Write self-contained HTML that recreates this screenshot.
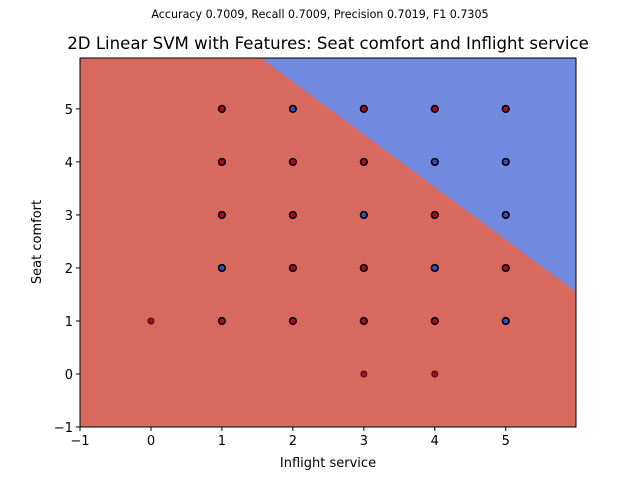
<!DOCTYPE html>
<html><head><meta charset="utf-8"><style>
body{margin:0;background:#fff}
svg{display:block;font-family:"DejaVu Sans","Liberation Sans",sans-serif}
</style></head><body>
<svg id="chart" width="640" height="480" xmlns="http://www.w3.org/2000/svg">
<text x="320" y="18" text-anchor="middle" font-size="11.1">Accuracy 0.7009, Recall 0.7009, Precision 0.7019, F1 0.7305</text>
<text x="328" y="49" text-anchor="middle" font-size="16.6">2D Linear SVM with Features: Seat comfort and Inflight service</text>
<g id="plot"></g>
<text x="328" y="467" text-anchor="middle" font-size="13">Inflight service</text>
<text transform="translate(41,242) rotate(-90)" text-anchor="middle" font-size="13">Seat comfort</text>
</svg>
<script>
const xTicks=[-1,0,1,2,3,4,5];
const yTicks=[-1,0,1,2,3,4,5];
const px=[1,2,3,4,5, 1,2,3,4,5, 1,2,3,4,5, 1,2,3,4,5, 0,1,2,3,4,5, 3,4];
const py=[5,5,5,5,5, 4,4,4,4,4, 3,3,3,3,3, 2,2,2,2,2, 1,1,1,1,1,1, 0,0];
const pc=[0,1,0,0,0, 0,0,0,1,1, 0,0,1,0,1, 1,0,0,1,0, 0,0,0,0,0,1, 0,0];
const dense=[1,1,1,1,1, 1,1,1,1,1, 1,1,1,1,1, 1,1,1,1,1, 0,1,1,1,1,1, 0,0];
// decision boundary passes through these two points
const boundaryX=[1.55,5.99];
const boundaryY=[5.96,1.55];
const L=80,R=576,T=58,B=427,xmin=-1,xmax=5.99,ymin=-1,ymax=5.96;
const sx=v=>L+(v-xmin)/(xmax-xmin)*(R-L);
const sy=v=>B-(v-ymin)/(ymax-ymin)*(B-T);
const NS="http://www.w3.org/2000/svg";
const g=document.getElementById('plot');
function mk(t,a){const e=document.createElementNS(NS,t);for(const k in a)e.setAttribute(k,a[k]);g.appendChild(e);return e;}
let e=mk('rect',{x:L,y:T,width:R-L,height:B-T,fill:'#d8695f'});


const m=(boundaryY[1]-boundaryY[0])/(boundaryX[1]-boundaryX[0]);
const yAt=x=>boundaryY[0]+m*(x-boundaryX[0]);
const xAt=y=>boundaryX[0]+(y-boundaryY[0])/m;
e=mk('polygon',{points:[[sx(xAt(ymax)),T],[R,T],[R,sy(yAt(xmax))]].map(p=>p.join(',')).join(' '),fill:'#7289e0'});


for(let i=0;i<px.length;i++){
 e=mk('circle',{cx:sx(px[i]),cy:sy(py[i]),r:dense[i]?3.3:3,fill:pc[i]?'#3b4cc0':'#b40426',stroke:dense[i]?'#000':'#3a1010','stroke-width':dense[i]?1.6:1});
 
 
}
e=mk('rect',{x:L,y:T,width:R-L,height:B-T,fill:'none',stroke:'#000','stroke-width':1});


xTicks.forEach(t=>{const x=sx(t);
 e=mk('line',{x1:x,x2:x,y1:B,y2:B+4,stroke:'#000'});
 
 
 e=mk('text',{x:x,y:B+18,'text-anchor':'middle','font-size':13});e.textContent=t<0?'\u2212'+(-t):t;
 
 
});
yTicks.forEach(t=>{const y=sy(t);
 e=mk('line',{x1:L-4,x2:L,y1:y,y2:y,stroke:'#000'});
 
 
 e=mk('text',{x:L-7,y:y+5,'text-anchor':'end','font-size':13});e.textContent=t<0?'\u2212'+(-t):t;
 
 
});
</script>
</body></html>
